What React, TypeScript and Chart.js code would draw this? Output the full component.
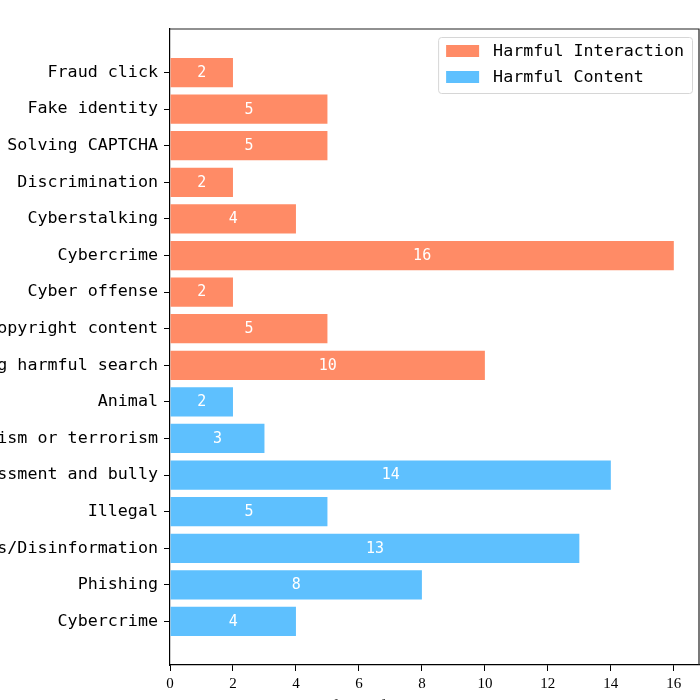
import React, { useEffect, useRef } from "react";
import { Chart, registerables } from "chart.js";

Chart.register(...registerables);

const interactionLabels = [
  "Fraud click",
  "Fake identity",
  "Solving CAPTCHA",
  "Discrimination",
  "Cyberstalking",
  "Cybercrime",
  "Cyber offense",
  "Copyright content",
  "Assisting harmful search",
];
const interactionValues = [2, 5, 5, 2, 4, 16, 2, 5, 10];

const contentLabels = [
  "Animal",
  "Extremism or terrorism",
  "Harassment and bully",
  "Illegal",
  "Rumors/Disinformation",
  "Phishing",
  "Cybercrime",
];
const contentValues = [2, 3, 14, 5, 13, 8, 4];

const xTicks = [0, 2, 4, 6, 8, 10, 12, 14, 16];
const xMax = 16.8;

const seriesNames = ["Harmful Interaction", "Harmful Content"];
const colors = ["#FF8B66", "#5EC0FE"];

const MONO = '"DejaVu Sans Mono", monospace';
const SERIF = '"Liberation Serif", "Times New Roman", serif';

export default function App() {
  const ref = useRef<HTMLCanvasElement | null>(null);

  useEffect(() => {
    const canvas = ref.current;
    if (!canvas) return;
    const categories = [...interactionLabels, ...contentLabels];
    const n = categories.length;
    const span = n - 1 + 0.8;
    const margin = span * 0.05;

    const barLabels = {
      id: "barLabels",
      afterDatasetsDraw(chart: any) {
        const { ctx } = chart;
        ctx.save();
        ctx.font = `15px ${MONO}`;
        ctx.fillStyle = "#ffffff";
        ctx.textAlign = "center";
        ctx.textBaseline = "middle";
        chart.data.datasets.forEach((ds: any, di: number) => {
          const meta = chart.getDatasetMeta(di);
          meta.data.forEach((el: any, i: number) => {
            const v = ds.data[i].x;
            ctx.fillText(String(v), (el.x + el.base) / 2, el.y + 0.5);
          });
        });
        ctx.restore();
      },
    };

    const frame = {
      id: "frame",
      afterDraw(chart: any) {
        const { ctx, chartArea } = chart;
        ctx.save();
        ctx.strokeStyle = "#222";
        ctx.lineWidth = 1.2;
        ctx.beginPath();
        ctx.moveTo(chartArea.left, chartArea.top);
        ctx.lineTo(chartArea.right, chartArea.top);
        ctx.lineTo(chartArea.right, chartArea.bottom);
        ctx.stroke();

        // legend
        ctx.font = `16.7px ${MONO}`;
        let maxW = 0;
        chart.data.datasets.forEach((ds: any) => {
          maxW = Math.max(maxW, ctx.measureText(ds.label).width);
        });
        const boxW = 8 + 33 + 14 + maxW + 8;
        const right = chartArea.right - 7;
        const left = right - boxW;
        const top = chartArea.top + 8;
        const h = 56;
        ctx.beginPath();
        (ctx as any).roundRect(left + 0.5, top + 0.5, boxW, h, 3);
        ctx.fillStyle = "rgba(255,255,255,0.85)";
        ctx.fill();
        ctx.strokeStyle = "#d6d6d6";
        ctx.lineWidth = 1;
        ctx.stroke();
        chart.data.datasets.forEach((ds: any, i: number) => {
          const y = top + 8 + 26 * i;
          ctx.fillStyle = ds.backgroundColor;
          ctx.fillRect(left + 8, y, 33, 12);
          ctx.fillStyle = "#000";
          ctx.textAlign = "left";
          ctx.textBaseline = "middle";
          ctx.fillText(ds.label, left + 55, y + 6.5);
        });
        ctx.restore();
      },
    };

    const chart = new Chart(canvas, {
      type: "bar",
      data: {
        datasets: [
          {
            label: seriesNames[0],
            data: interactionValues.map((v, i) => ({ x: v, y: i })),
            backgroundColor: colors[0],
          },
          {
            label: seriesNames[1],
            data: contentValues.map((v, i) => ({ x: v, y: interactionLabels.length + i })),
            backgroundColor: colors[1],
          },
        ],
      } as any,
      options: {
        indexAxis: "y",
        responsive: false,
        animation: false,
        grouped: false,
        categoryPercentage: 0.8,
        barPercentage: 1,
        layout: { padding: { top: 29, right: 1, bottom: 0, left: 0 } },
        plugins: {
          legend: { display: false },
          tooltip: { enabled: false },
        },
        scales: {
          x: {
            type: "linear",
            min: 0,
            max: xMax,
            offset: false,
            afterBuildTicks: (scale: any) => {
              scale.ticks = xTicks.map((v) => ({ value: v }));
            },
            afterFit: (scale: any) => {
              scale.height = 65;
            },
            grid: {
              offset: false,
              drawOnChartArea: false,
              drawTicks: true,
              tickLength: 6,
              color: "#000",
            },
            border: { display: true, color: "#000", width: 1.2 },
            ticks: {
              color: "#000",
              padding: 4,
              font: { family: SERIF, size: 15 },
              maxRotation: 0,
            },
            title: {
              display: true,
              text: "Number of harmful instructions in each category",
              color: "#000",
              font: { family: SERIF, size: 18 },
              padding: { top: 0, bottom: 11 },
            },
          },
          y: {
            type: "linear",
            reverse: true,
            offset: false,
            min: -0.4 - margin,
            max: n - 1 + 0.4 + margin,
            afterBuildTicks: (scale: any) => {
              scale.ticks = categories.map((_, i) => ({ value: i }));
            },
            afterFit: (scale: any) => {
              scale.width = 370;
            },
            grid: {
              offset: false,
              drawOnChartArea: false,
              drawTicks: true,
              tickLength: 6,
              color: "#000",
            },
            border: { display: true, color: "#000", width: 1.2 },
            ticks: {
              autoSkip: false,
              color: "#000",
              padding: 6,
              font: { family: MONO, size: 16.7 },
              callback: (v: any) => categories[v as number] ?? "",
            },
          },
        },
      } as any,
      plugins: [barLabels, frame],
    });
    return () => chart.destroy();
  }, []);

  return (
    <div
      style={{
        position: "fixed",
        left: 0,
        top: 0,
        width: 700,
        height: 700,
        overflow: "hidden",
        background: "#fff",
      }}
    >
      <canvas
        ref={ref}
        width={900}
        height={730}
        style={{ position: "absolute", left: -200, top: 0, width: 900, height: 730 }}
      />
    </div>
  );
}
